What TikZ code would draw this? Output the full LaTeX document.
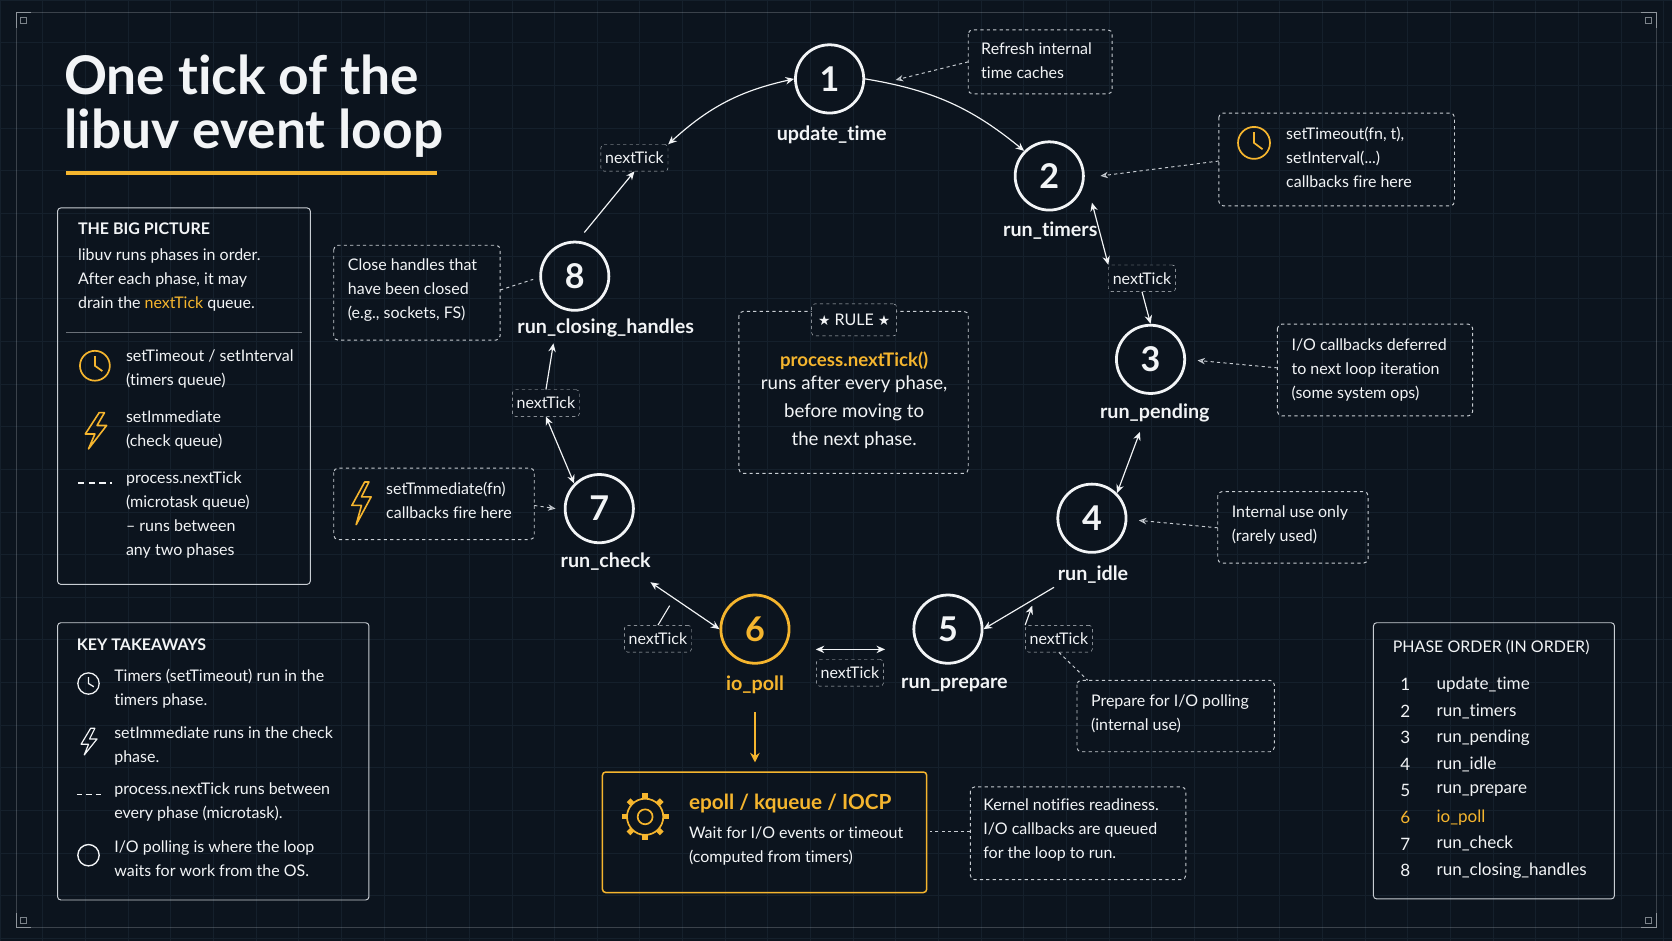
\documentclass[tikz,border=0pt]{standalone}
\usepackage{fontspec}
\setmainfont{Lato}[Ligatures={NoCommon,NoRequired}]
\newfontfamily\dejavu{DejaVu Sans}
\usetikzlibrary{arrows.meta}
\definecolor{bg}{HTML}{0C141E}
\definecolor{gridc}{HTML}{15202C}
\definecolor{gold}{HTML}{F5B52E}
\definecolor{fg}{HTML}{F2F4F6}
\definecolor{dashc}{HTML}{C8CDD3}
\newcommand{\fs}[1]{\fontsize{#1pt}{\dimexpr #1pt*3/2\relax}\selectfont}
\begin{document}
\begin{tikzpicture}[x=1pt,y=-1pt,
  ph/.style={circle,draw=fg,line width=2.6pt,minimum size=64pt,inner sep=0pt,text=fg,font=\fs{32}\bfseries},
  lab/.style={text=fg,font=\fs{18.5}\bfseries},
  nt/.style={draw=dashc,dashed,rounded corners=3pt,fill=bg,text=fg,font=\fs{15},inner sep=4pt,minimum height=25pt},
  ann/.style={draw=dashc,dashed,rounded corners=4pt,line width=0.9pt},
  txt/.style={text=fg,font=\fs{15},align=left,anchor=north west,inner sep=0pt},
  arr/.style={draw=fg,line width=1.1pt,-{Stealth[length=8pt,width=7pt]}},
  barr/.style={draw=fg,line width=1.1pt,{Stealth[length=8pt,width=7pt]}-{Stealth[length=8pt,width=7pt]}},
  darr/.style={draw=dashc,dashed,line width=0.9pt,-{Stealth[length=7pt,width=6pt,open]}},
  panel/.style={draw=dashc,line width=0.9pt,rounded corners=3pt}]
\fill[bg] (0,0) rectangle (1568,882);
\useasboundingbox (0,0) rectangle (1568,882);
\foreach \x in {0,40,...,1560} \draw[gridc,line width=0.6pt] (\x,0)--(\x,882);
\foreach \y in {0,40,...,880} \draw[gridc,line width=0.6pt] (0,\y)--(1568,\y);
\draw[dashc,line width=0.6pt,opacity=0.25] (15,12) rectangle (1553,870);
\foreach \cx/\cy/\sx/\sy in {15/12/1/1,1553/12/-1/1,15/870/1/-1,1553/870/-1/-1}
  \draw[dashc,line width=0.8pt,opacity=0.6] (\cx+\sx*14,\cy)--(\cx,\cy)--(\cx,\cy+\sy*14) (\cx+\sx*4,\cy+\sy*4) rectangle (\cx+\sx*10,\cy+\sy*10);

% title
\node[anchor=west,text=fg,font=\fs{50}\bfseries,inner sep=0pt] (t1) at (60,70) {One tick of the};
\node[anchor=west,text=fg,font=\fs{50}\bfseries,inner sep=0pt] (t2) at (60,125) {libuv event loop};
\draw[gold,line width=3.5pt] (62,162)--(410,162);

% phases
\node[ph] (p1) at (778,74) {1};
\node[lab] (l1) at (780,126) {update\_time};
\node[ph] (p2) at (984,165) {2};
\node[lab] (l2) at (985,216) {run\_timers};
\node[ph] (p3) at (1079,337) {3};
\node[lab] (l3) at (1083,387) {run\_pending};
\node[ph] (p4) at (1024,486) {4};
\node[lab] (l4) at (1025,539) {run\_idle};
\node[ph] (p5) at (889,590) {5};
\node[lab] (l5) at (895,642) {run\_prepare};
\node[ph,draw=gold,text=gold] (p6) at (708,590) {6};
\node[lab,text=gold] (l6) at (708,642) {io\_poll};
\node[ph] (p7) at (562,477) {7};
\node[lab] (l7) at (568,527) {run\_check};
\node[ph] (p8) at (539,259) {8};
\node[lab] (l8) at (568,308) {run\_closing\_handles};

% nextTick
\node[nt] (n1) at (595,148) {nextTick};
\node[nt] (n2) at (1071,261) {nextTick};
\node[nt] (n3) at (512,378) {nextTick};
\node[nt] (n4) at (617,599) {nextTick};
\node[nt] (n5) at (797,631) {nextTick};
\node[nt] (n6) at (993,599) {nextTick};

% connectors
\draw[arr] (548,218) -- (n1.south);
\draw[barr] (n1.north east) to[bend left=15] (p1.west);
\draw[arr] (p1.east) to[bend left=15] (p2.north west);
\draw[barr] (1024,190) -- (n2.north west);
\draw[arr] (n2.south) -- (p3.north);
\draw[barr] (1069,405) -- (p4.north east);
\draw[arr] (l4.south west) -- (p5.east);
\draw[arr] (n6.north west) -- (968,568);
\draw[barr] (830,609) -- (765,609);
\draw[barr] (p6.west) -- (610,546);
\draw[draw=fg,line width=1pt] (n4.north) -- (628,568);
\draw[barr] (p7.north west) -- (n3.south);
\draw[arr] (n3.north) -- (519,322);
\draw[gold,line width=2pt,-{Stealth[length=9pt,width=9pt]}] (708,668)--(708,715);

% annotations
\draw[ann] (908,28) rectangle (1043,88);
\node[txt] (a1) at (920,40) {Refresh internal\\time caches};
\draw[darr] (908,58) -- (840,75);

\draw[ann] (1143,106) rectangle (1364,193);
\node[txt] (a2) at (1206,119) {setTimeout(fn, t),\\setInterval(...)\\callbacks fire here};
\draw[gold,line width=1.6pt] (1176,134) circle (15) (1176,124)--(1176,134)--(1184,140);
\draw[darr] (1143,151) -- (1032,165);

\draw[ann] (1198,304) rectangle (1381,390);
\node[txt] (a3) at (1211,317) {I/O callbacks deferred\\to next loop iteration\\(some system ops)};
\draw[darr] (1198,345) -- (1123,338);

\draw[ann] (1142,461) rectangle (1283,528);
\node[txt] (a4) at (1155,474) {Internal use only\\(rarely used)};
\draw[darr] (1142,495) -- (1068,488);

\draw[ann] (1010,638) rectangle (1195,705);
\node[txt] (a5) at (1023,651) {Prepare for I/O polling\\(internal use)};
\draw[dashc,dashed,line width=0.9pt] (n6.south) -- (1020,638);

\draw[ann] (910,738) rectangle (1112,825);
\node[txt] (a6) at (922,749) {Kernel notifies readiness.\\I/O callbacks are queued\\for the loop to run.};
\draw[dashc,dashed,line width=0.9pt] (910,780) -- (872,780);

\draw[ann] (313,230) rectangle (469,319);
\node[txt] (a7) at (326,242) {Close handles that\\have been closed\\(e.g., sockets, FS)};
\draw[dashc,dashed,line width=0.9pt] (469,272) -- (500,262);

\draw[ann] (313,439) rectangle (501,506);
\node[txt] (a8) at (362,452) {setTmmediate(fn)\\callbacks fire here};
\draw[gold,line width=1.5pt,line join=round] (342,452)--(330,474)--(339,474)--(334,492)--(348,466)--(339,466)--(346,452)--cycle;
\draw[darr] (501,474) -- (521,477);

% rule box
\draw[ann] (693,292) rectangle (908,444);
\node[nt,minimum height=30pt,inner sep=6pt] (rule) at (801,300) {{\dejavu\fs{13}★} RULE {\dejavu\fs{13}★}};
\node[text=gold,font=\fs{17.5}\bfseries,inner sep=0pt] (r1) at (801,338) {process.nextTick()};
\node[text=fg,font=\fs{17.5},align=center,inner sep=0pt,anchor=north] (r2) at (801,352) {runs after every phase,\\before moving to\\the next phase.};

% epoll box
\draw[gold,line width=1.4pt,rounded corners=3pt] (565,724) rectangle (869,837);
\node[anchor=west,text=gold,font=\fs{19.5}\bfseries,inner sep=0pt] (e1) at (646,754) {epoll / kqueue / IOCP};
\node[txt] (e2) at (646,775) {Wait for I/O events or timeout\\(computed from timers)};
\begin{scope}[shift={(605,766)},gold,line width=1.6pt]
  \foreach \a in {0,45,...,315} \draw[rotate=\a,line width=5pt] (15,0)--(22,0);
  \fill[bg] (0,0) circle (17);
  \draw (0,0) circle (17);
  \draw (0,0) circle (7);
\end{scope}

% THE BIG PICTURE
\draw[panel] (54,195) rectangle (291,548);
\node[txt,font=\fs{15}\bfseries] (bp) at (73,209) {THE BIG PICTURE};
\node[txt] (bp1) at (73,233) {libuv runs phases in order.\\After each phase, it may\\drain the \textcolor{gold}{nextTick} queue.};
\draw[dashc,line width=0.6pt,opacity=0.5] (62,312)--(283,312);
\draw[gold,line width=1.6pt] (89,343) circle (14) (89,334)--(89,343)--(96,348);
\node[txt] (bp2) at (118,328) {setTimeout / setInterval\\(timers queue)};
\draw[gold,line width=1.5pt,line join=round] (93,387)--(80,407)--(89,407)--(83,421)--(100,399)--(91,399)--(98,387)--cycle;
\node[txt] (bp3) at (118,385) {setImmediate\\(check queue)};
\draw[fg,line width=1.3pt,dash pattern=on 6pt off 4pt] (73,453)--(105,453);
\node[txt] (bp4) at (118,442) {process.nextTick\\(microtask queue)\\-- runs between\\any two phases};

% KEY TAKEAWAYS
\draw[panel] (54,584) rectangle (346,844);
\node[txt,font=\fs{15}\bfseries] (kt) at (72,599) {KEY TAKEAWAYS};
\draw[fg,line width=1.2pt] (83,641) circle (10) (83,635)--(83,641)--(88,644);
\node[txt] (k1) at (107,627) {Timers (setTimeout) run in the\\timers phase.};
\draw[fg,line width=1.1pt,line join=round] (85,683)--(76,698)--(83,698)--(79,708)--(91,693)--(84,693)--(89,683)--cycle;
\node[txt] (k2) at (107,681) {setImmediate runs in the check\\phase.};
\draw[fg,line width=1.1pt,dash pattern=on 5pt off 4pt] (72,745)--(98,745);
\node[txt] (k3) at (107,734) {process.nextTick runs between\\every phase (microtask).};
\draw[fg,line width=1.3pt] (83,802) circle (10);
\node[txt] (k4) at (107,788) {I/O polling is where the loop\\waits for work from the OS.};

% PHASE ORDER
\draw[panel] (1288,584) rectangle (1514,843);
\node[txt,font=\fs{15}] (po) at (1306,600) {PHASE ORDER (IN ORDER)};
\foreach \i/\n [count=\k] in {1/update\_time,2/run\_timers,3/run\_pending,4/run\_idle,5/run\_prepare,6/io\_poll,7/run\_check,8/run\_closing\_handles}{
  \ifnum\k=6 \def\cc{gold}\else\def\cc{fg}\fi
  \node[anchor=west,text=\cc,font=\fs{16},inner sep=0pt] (pn\k) at (1313,642+24.9*\k-24.9) {\i};
  \node[anchor=west,text=\cc,font=\fs{16},inner sep=0pt] (pl\k) at (1347,642+24.9*\k-24.9) {\n};
}
\end{tikzpicture}
\end{document}
